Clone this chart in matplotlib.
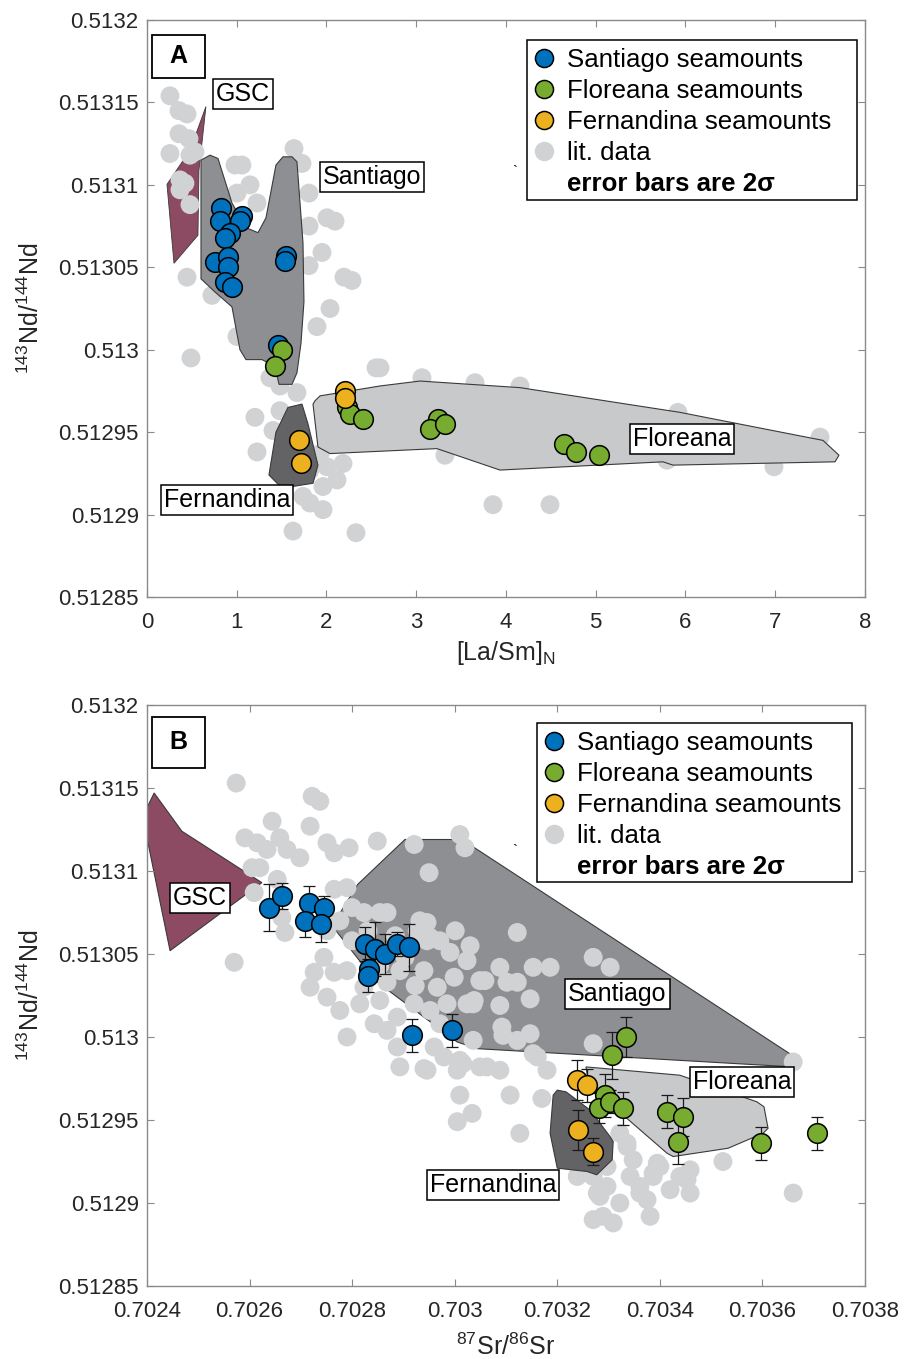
import numpy as np
import matplotlib
matplotlib.use("Agg")
import matplotlib.pyplot as plt
from matplotlib.lines import Line2D
from matplotlib.patches import Rectangle
from matplotlib.ticker import FuncFormatter

plt.rcParams['font.family'] = ['Liberation Sans', 'DejaVu Sans']
plt.rcParams['mathtext.fontset'] = 'custom'
plt.rcParams['mathtext.rm'] = 'Liberation Sans'
plt.rcParams['mathtext.it'] = 'Liberation Sans:italic'
plt.rcParams['mathtext.bf'] = 'Liberation Sans:bold'

# ---------------- panel A data: [La/Sm]N vs 143Nd/144Nd ----------------
a_sant_x = [0.83, 0.81, 1.055, 1.036, 0.925, 0.87, 0.76, 0.90, 0.90, 0.87, 0.95, 1.545, 1.54, 1.46]
a_sant_y = [0.513086, 0.513078, 0.513081, 0.513078, 0.513071, 0.513068, 0.513053, 0.513056,
            0.513050, 0.513041, 0.513038, 0.513057, 0.513054, 0.513003]
a_flor_x = [1.50, 1.426, 2.225, 2.262, 2.41, 3.245, 3.153, 3.32, 4.65, 4.78, 5.04]
a_flor_y = [0.513000, 0.512990, 0.512965, 0.512961, 0.512958, 0.512958, 0.512952, 0.512955,
            0.512943, 0.512938, 0.512936]
a_fern_x = [2.206, 2.206, 1.697, 1.713]
a_fern_y = [0.512975, 0.512971, 0.512945, 0.512931]

a_lit_x = [0.256, 0.357, 0.446, 0.357, 0.468, 0.256, 0.479, 0.535, 0.368, 0.368, 0.423, 0.479,
           1.638, 1.727, 0.981, 1.058, 1.148, 1.003, 1.226, 1.805, 2.006, 2.095, 1.805, 1.950,
           1.805, 2.195, 2.284, 0.446, 0.724, 2.039, 1.894, 1.003, 0.490, 2.552, 1.370, 1.482,
           1.671, 1.482, 1.203, 1.404, 1.226, 1.928, 2.006, 2.184, 2.117, 1.961, 1.816, 1.961,
           1.738, 1.627, 2.329, 1.482, 2.596, 3.320, 3.855, 4.490, 6.986, 3.064, 3.655, 4.156,
           5.916, 7.499, 5.794, 1.705, 1.816]
a_lit_y = [0.513154, 0.513145, 0.513143, 0.513131, 0.513128, 0.513119, 0.513118, 0.513120,
           0.513103, 0.513097, 0.513101, 0.513088, 0.513122, 0.513113, 0.513112, 0.513112,
           0.513100, 0.513095, 0.513089, 0.513095, 0.513080, 0.513078, 0.513075, 0.513059,
           0.513051, 0.513044, 0.513042, 0.513044, 0.513033, 0.513025, 0.513014, 0.513008,
           0.512995, 0.512989, 0.512983, 0.512978, 0.512974, 0.512963, 0.512959, 0.512951,
           0.512938, 0.512937, 0.512929, 0.512931, 0.512921, 0.512917, 0.512907, 0.512903,
           0.512911, 0.512890, 0.512889, 0.512931, 0.512989, 0.512936, 0.512906, 0.512906,
           0.512929, 0.512983, 0.512980, 0.512978, 0.512962, 0.512947, 0.512933, 0.512945,
           0.512927]

a_gsc_x = [0.657, 0.579, 0.568, 0.301, 0.223, 0.479]
a_gsc_y = [0.5131475, 0.5131088, 0.5130694, 0.5130524, 0.5131003, 0.5131209]
a_santpoly_x = [0.602, 0.702, 0.791, 0.947, 1.103, 1.237, 1.326, 1.437, 1.515, 1.616, 1.671,
                1.738, 1.749, 1.716, 1.671, 1.616, 1.471, 1.426, 1.281, 1.103, 1.036, 0.947,
                0.758, 0.602]
a_santpoly_y = [0.513115, 0.513118, 0.513116, 0.513089, 0.513074, 0.513071, 0.513080, 0.513112,
                0.513117, 0.513117, 0.513114, 0.513065, 0.513029, 0.513004, 0.512986, 0.512979,
                0.512979, 0.512990, 0.512994, 0.512994, 0.513000, 0.513026, 0.513035, 0.513043]
a_fernpoly_x = [1.571, 1.727, 1.794, 1.905, 1.850, 1.504, 1.359, 1.437]
a_fernpoly_y = [0.512965, 0.512967, 0.512955, 0.512930, 0.512919, 0.512916, 0.512924, 0.512950]
a_florpoly_x = [1.872, 1.928, 2.596, 3.042, 4.156, 5.939, 7.532, 7.710, 7.666, 5.861, 5.749,
                3.933, 3.231, 2.039, 1.905, 1.850]
a_florpoly_y = [0.512969, 0.512972, 0.512978, 0.512981, 0.512977, 0.512962, 0.512945, 0.512936,
                0.512932, 0.512930, 0.512932, 0.512927, 0.512940, 0.512937, 0.512941, 0.512967]

# ---------------- panel B data: 87Sr/86Sr vs 143Nd/144Nd ----------------
b_sant_x = [0.702638, 0.702663, 0.702715, 0.702745, 0.702708, 0.702739, 0.702825, 0.702845,
            0.702865, 0.702888, 0.702911, 0.702832, 0.702831, 0.702916, 0.702995]
b_sant_y = [0.513078, 0.513085, 0.513081, 0.513078, 0.513070, 0.513068, 0.513056, 0.513053,
            0.513050, 0.513056, 0.513054, 0.513041, 0.513037, 0.513001, 0.513004]
b_sant_err = [1.4e-5, 8e-6, 1.0e-5, 7e-6, 1.0e-5, 1.1e-5, 1.0e-5, 1.6e-5,
              1.2e-5, 7e-6, 1.4e-5, 5e-6, 1.0e-5, 1.0e-5, 1.0e-5]
b_flor_x = [0.703334, 0.703307, 0.703294, 0.703281, 0.703303, 0.703328, 0.703413, 0.703446,
            0.703435, 0.703597, 0.703706]
b_flor_y = [0.513000, 0.512989, 0.512965, 0.512957, 0.512961, 0.512957, 0.512955, 0.512952,
            0.512937, 0.512936, 0.512942]
b_flor_err = [1.2e-5, 1.4e-5, 1.3e-5, 9e-6, 7e-6, 1.0e-5, 1.0e-5, 1.15e-5, 1.35e-5, 1.0e-5, 1.0e-5]
b_fern_x = [0.703239, 0.703257, 0.703240, 0.703270]
b_fern_y = [0.512974, 0.512971, 0.512944, 0.512931]
b_fern_err = [1.2e-5, 1.0e-5, 1.2e-5, 8e-6]

b_lit_x = [0.702574, 0.702722, 0.702737, 0.702644, 0.702718, 0.702591, 0.702615, 0.702634,
           0.702659, 0.702673, 0.702698, 0.702751, 0.702765, 0.702794, 0.702849, 0.702921,
           0.703010, 0.703020, 0.702950, 0.702605, 0.702620, 0.702609, 0.702654, 0.702663,
           0.702669, 0.702570, 0.702765, 0.702790, 0.702800, 0.702823, 0.702854, 0.702868,
           0.702932, 0.702776, 0.702751, 0.702726, 0.702745, 0.702718, 0.702751, 0.702776,
           0.702790, 0.702815, 0.702854, 0.702843, 0.702868, 0.702888, 0.702921, 0.702952,
           0.702971, 0.702985, 0.703024, 0.702966, 0.702940, 0.702991, 0.703024, 0.702999,
           0.703049, 0.703038, 0.702952, 0.702927, 0.702893, 0.702868, 0.702823, 0.702790,
           0.702765, 0.702888, 0.702960, 0.702893, 0.702940, 0.702979, 0.703010, 0.703049,
           0.703010, 0.703122, 0.703270, 0.703303, 0.703186, 0.703153, 0.703088, 0.703059,
           0.703102, 0.703122, 0.703147, 0.703088, 0.703036, 0.703092, 0.703147, 0.703122,
           0.703036, 0.703270, 0.702946, 0.702946, 0.703016, 0.703005, 0.703063, 0.703088,
           0.703161, 0.703180, 0.702946, 0.703034, 0.703005, 0.703108, 0.703127, 0.703170,
           0.703211, 0.703322, 0.703336, 0.703348, 0.703297, 0.703270, 0.703297, 0.703342,
           0.703361, 0.703387, 0.703400, 0.703439, 0.703459, 0.703453, 0.703420, 0.703375,
           0.703322, 0.703289, 0.703270, 0.703309, 0.703381, 0.703523, 0.703660, 0.703660,
           0.703239, 0.703283, 0.703094, 0.703153, 0.703387, 0.703336, 0.703278, 0.703361,
           0.703459, 0.703395, 0.702800, 0.702831, 0.702884, 0.702903, 0.702923, 0.702854,
           0.702971, 0.703001, 0.703030]
b_lit_y = [0.513153, 0.513145, 0.513142, 0.513130, 0.513127, 0.513120, 0.513117, 0.513113,
           0.513120, 0.513113, 0.513108, 0.513117, 0.513111, 0.513114, 0.513118, 0.513116,
           0.513122, 0.513114, 0.513099, 0.513102, 0.513102, 0.513087, 0.513095, 0.513072,
           0.513063, 0.513045, 0.513089, 0.513090, 0.513078, 0.513075, 0.513075, 0.513075,
           0.513070, 0.513070, 0.513064, 0.513039, 0.513048, 0.513030, 0.513024, 0.513016,
           0.513000, 0.513020, 0.513022, 0.513008, 0.513004, 0.513012, 0.513020, 0.513016,
           0.513008, 0.513020, 0.513020, 0.513030, 0.513040, 0.513051, 0.513046, 0.513036,
           0.513034, 0.513022, 0.513060, 0.513064, 0.513040, 0.513033, 0.513030, 0.513040,
           0.513039, 0.512994, 0.512994, 0.512982, 0.512981, 0.512988, 0.512986, 0.512982,
           0.512965, 0.513063, 0.513048, 0.513042, 0.513042, 0.513042, 0.513042, 0.513034,
           0.513033, 0.513033, 0.513023, 0.513019, 0.513020, 0.513006, 0.513002, 0.512998,
           0.512998, 0.512996, 0.513058, 0.513069, 0.512984, 0.512980, 0.512982, 0.512980,
           0.512988, 0.512980, 0.512980, 0.512954, 0.512949, 0.512965, 0.512942, 0.512963,
           0.512942, 0.512942, 0.512934, 0.512926, 0.512922, 0.512916, 0.512910, 0.512916,
           0.512910, 0.512916, 0.512922, 0.512916, 0.512906, 0.512914, 0.512908, 0.512902,
           0.512900, 0.512892, 0.512890, 0.512888, 0.512892, 0.512925, 0.512906, 0.512985,
           0.512916, 0.512904, 0.513001, 0.512990, 0.512918, 0.512936, 0.512906, 0.512906,
           0.512920, 0.512924, 0.513058, 0.513064, 0.513061, 0.513048, 0.513031, 0.513043,
           0.513058, 0.513064, 0.513055]

b_gsc_x = [0.702414, 0.702468, 0.702624, 0.702445, 0.702400, 0.702395]
b_gsc_y = [0.513147, 0.513124, 0.513093, 0.513052, 0.513120, 0.513135]
b_santpoly_x = [0.702903, 0.703014, 0.703673, 0.703660, 0.703044, 0.703005, 0.702845, 0.702761, 0.702811]
b_santpoly_y = [0.513119, 0.513119, 0.512986, 0.512982, 0.512993, 0.512997, 0.513034, 0.513067, 0.513092]
b_florpoly_x = [0.703256, 0.703439, 0.703589, 0.703603, 0.703611, 0.703601, 0.703533, 0.703426,
                0.703414, 0.703332, 0.703283, 0.703260]
b_florpoly_y = [0.512982, 0.512977, 0.512961, 0.512958, 0.512945, 0.512942, 0.512933, 0.512928,
                0.512930, 0.512952, 0.512962, 0.512974]
b_fernpoly_x = [0.703200, 0.703217, 0.703264, 0.703303, 0.703309, 0.703307, 0.703277, 0.703258,
                0.703200, 0.703186, 0.703192]
b_fernpoly_y = [0.512968, 0.512967, 0.512956, 0.512940, 0.512937, 0.512926, 0.512917, 0.512919,
                0.512921, 0.512942, 0.512965]

# colours
c_blue = '#0072BD'
c_green = '#77AC30'
c_yellow = '#EDB120'
c_lit = '#d1d2d4'
c_gsc = '#8c4a63'
c_santpoly = '#8e8f92'
c_fernpoly = '#636365'
c_florpoly = '#c8c9cb'
poly_edge = '#3a3a3a'

fig = plt.figure(figsize=(9.05, 13.59), dpi=100)
axA = fig.add_axes([0.1624, 0.5607, 0.7934, 0.4246])
axB = fig.add_axes([0.1624, 0.0537, 0.7934, 0.4275])


def fmt(v, pos):
    return '{:g}'.format(round(v, 6))


def style_axes(ax):
    for s in ax.spines.values():
        s.set_color('#8a8a8a')
        s.set_linewidth(1.0)
    ax.tick_params(direction='in', top=True, right=True, length=5, width=0.8,
                   color='#8a8a8a', labelcolor='#262626', labelsize=16, pad=6)
    ax.tick_params(axis='x', pad=11)
    ax.yaxis.set_major_formatter(FuncFormatter(fmt))
    ax.xaxis.set_major_formatter(FuncFormatter(fmt))


def label_box(ax, x, y, s):
    ax.text(x, y, s, ha='center', va='center', fontsize=18, zorder=8,
            bbox=dict(boxstyle='square,pad=0.12', fc='white', ec='black', lw=1.1))


def panel_letter(ax, s, y0, h):
    ax.add_patch(Rectangle((0.007, y0), 0.074, h, transform=ax.transAxes,
                           fc='white', ec='black', lw=1.3, zorder=9))
    ax.text(0.044, y0 + h / 2, s, transform=ax.transAxes, ha='center', va='center',
            fontsize=18, fontweight='bold', zorder=10)


def add_legend(ax, box):
    # box = (left, bottom, right, top) in axes fraction
    left, bottom, right, top = box
    ax.add_patch(Rectangle((left, bottom), right - left, top - bottom, transform=ax.transAxes,
                           fc='white', ec='black', lw=1.1, zorder=9))
    handles = [
        Line2D([], [], ls='none', marker='o', ms=13, mfc=c_blue, mec='k', mew=1.1),
        Line2D([], [], ls='none', marker='o', ms=13, mfc=c_green, mec='k', mew=1.1),
        Line2D([], [], ls='none', marker='o', ms=13, mfc=c_yellow, mec='k', mew=1.1),
        Line2D([], [], ls='none', marker='o', ms=14, mfc=c_lit, mec='none'),
        Line2D([], [], ls='none'),
    ]
    labels = ['Santiago seamounts', 'Floreana seamounts', 'Fernandina seamounts',
              'lit. data', 'error bars are 2σ']
    leg = ax.legend(handles, labels, loc='upper left', bbox_to_anchor=(left, top),
                    borderaxespad=0, fontsize=18.6, frameon=False,
                    handlelength=0.7, handletextpad=0.55, labelspacing=0.27,
                    borderpad=0.3)
    leg.set_zorder(10)
    leg.get_texts()[-1].set_fontweight('bold')


# ---------------- panel A ----------------
axA.fill(a_gsc_x, a_gsc_y, facecolor=c_gsc, edgecolor=poly_edge, lw=0.6, zorder=1)
axA.scatter(a_lit_x, a_lit_y, s=185, c=c_lit, edgecolors='none', zorder=2)
axA.fill(a_santpoly_x, a_santpoly_y, facecolor=c_santpoly, edgecolor=poly_edge, lw=0.8, zorder=3)
axA.fill(a_fernpoly_x, a_fernpoly_y, facecolor=c_fernpoly, edgecolor=poly_edge, lw=0.8, zorder=3)
axA.fill(a_florpoly_x, a_florpoly_y, facecolor=c_florpoly, edgecolor=poly_edge, lw=0.8, zorder=3)
axA.scatter(a_sant_x, a_sant_y, s=200, c=c_blue, edgecolors='k', linewidths=1.1, zorder=5)
axA.scatter(a_flor_x, a_flor_y, s=200, c=c_green, edgecolors='k', linewidths=1.1, zorder=5)
axA.scatter(a_fern_x, a_fern_y, s=200, c=c_yellow, edgecolors='k', linewidths=1.1, zorder=5)

label_box(axA, 1.07, 0.513155, 'GSC')
label_box(axA, 2.507, 0.513105, 'Santiago')
label_box(axA, 0.891, 0.512909, 'Fernandina')
label_box(axA, 5.961, 0.512946, 'Floreana')
axA.text(4.10, 0.513108, '`', ha='center', va='center', fontsize=11)

axA.set_xlim(0, 8)
axA.set_ylim(0.51285, 0.5132)
axA.set_xticks(np.arange(0, 9, 1))
axA.set_yticks(np.arange(0.51285, 0.513201, 0.00005))
axA.set_xlabel('[La/Sm]$_{\\mathrm{N}}$', fontsize=18, color='#262626', labelpad=4)
axA.set_ylabel('$^{143}$Nd/$^{144}$Nd', fontsize=18, color='#262626', labelpad=10)
style_axes(axA)
panel_letter(axA, 'A', 0.8995, 0.0745)
add_legend(axA, (0.529, 0.688, 0.989, 0.965))

# ---------------- panel B ----------------
axB.fill(b_santpoly_x, b_santpoly_y, facecolor=c_santpoly, edgecolor=poly_edge, lw=0.8, zorder=1)
axB.fill(b_florpoly_x, b_florpoly_y, facecolor=c_florpoly, edgecolor=poly_edge, lw=0.8, zorder=1)
axB.fill(b_gsc_x, b_gsc_y, facecolor=c_gsc, edgecolor=poly_edge, lw=0.8, zorder=1)
axB.scatter(b_lit_x, b_lit_y, s=185, c=c_lit, edgecolors='none', zorder=2)
axB.fill(b_fernpoly_x, b_fernpoly_y, facecolor=c_fernpoly, edgecolor=poly_edge, lw=0.8, zorder=3)

for xs, ys, es, col in [(b_sant_x, b_sant_y, b_sant_err, c_blue),
                        (b_flor_x, b_flor_y, b_flor_err, c_green),
                        (b_fern_x, b_fern_y, b_fern_err, c_yellow)]:
    axB.errorbar(xs, ys, yerr=es, fmt='none', ecolor='#1a1a1a', elinewidth=0.9,
                 capsize=4, capthick=0.9, zorder=4)
    axB.scatter(xs, ys, s=200, c=col, edgecolors='k', linewidths=1.1, zorder=5)

label_box(axB, 0.702503, 0.513084, 'GSC')
label_box(axB, 0.703317, 0.513026, 'Santiago')
label_box(axB, 0.703560, 0.512973, 'Floreana')
label_box(axB, 0.703075, 0.512911, 'Fernandina')
axB.text(0.703118, 0.513112, '`', ha='center', va='center', fontsize=11)

axB.set_xlim(0.7024, 0.7038)
axB.set_ylim(0.51285, 0.5132)
axB.set_xticks(np.arange(0.7024, 0.70381, 0.0002))
axB.set_yticks(np.arange(0.51285, 0.513201, 0.00005))
axB.set_xlabel('$^{87}$Sr/$^{86}$Sr', fontsize=18, color='#262626', labelpad=8)
axB.set_ylabel('$^{143}$Nd/$^{144}$Nd', fontsize=18, color='#262626', labelpad=10)
style_axes(axB)
panel_letter(axB, 'B', 0.8916, 0.088)
add_legend(axB, (0.543, 0.695, 0.982, 0.969))

fig.savefig('out.png', dpi=100)
